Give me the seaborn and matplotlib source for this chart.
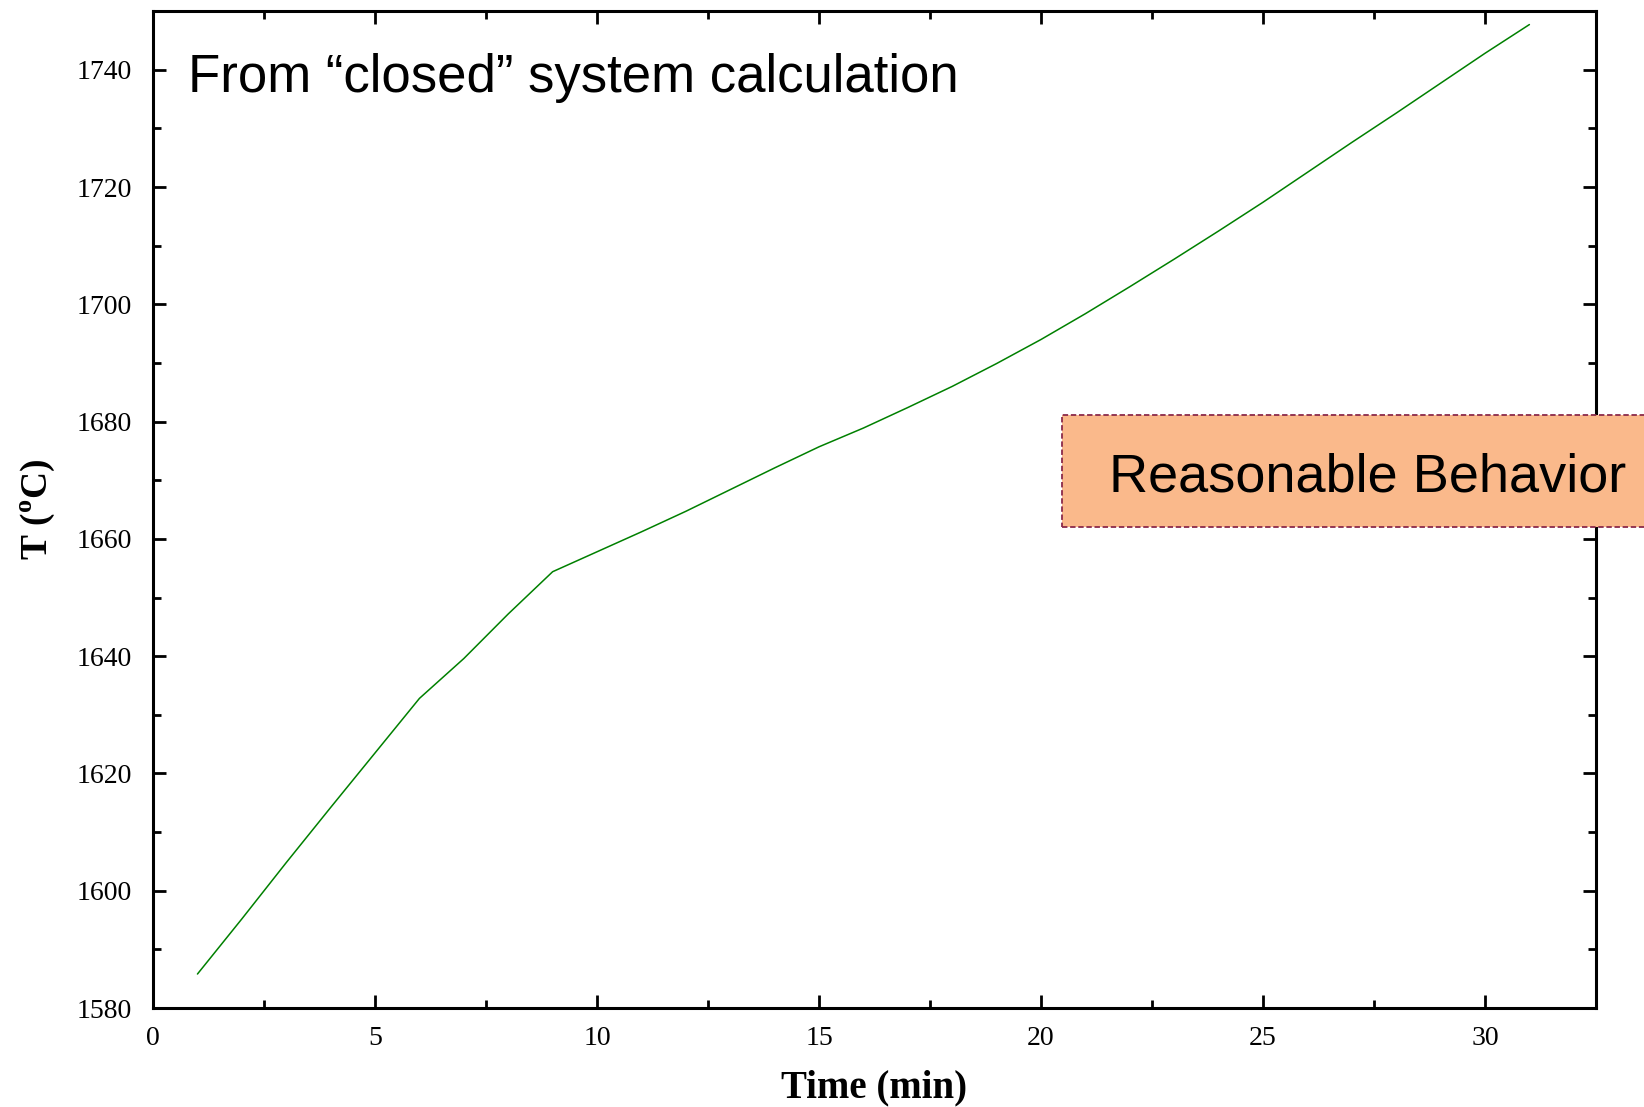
import numpy as np
import pandas as pd
import matplotlib
matplotlib.use("Agg")
import matplotlib.pyplot as plt
from matplotlib.patches import Rectangle
from matplotlib.ticker import MultipleLocator
import seaborn as sns

# Temperature history of the melt (closed-system calculation)
time_min = [1, 2, 3, 4, 5, 6, 7, 8, 9, 10, 11, 12, 13, 14, 15, 16,
            17, 18, 19, 20, 21, 22, 23, 24, 25, 26, 27, 28, 29, 30, 31]
temp_c = [1585.8, 1595.2, 1604.8, 1614.2, 1623.5, 1632.8, 1639.6, 1647.2,
          1654.4, 1657.8, 1661.2, 1664.7, 1668.4, 1672.1, 1675.7, 1678.9,
          1682.4, 1686.0, 1689.9, 1694.0, 1698.4, 1703.0, 1707.7, 1712.5,
          1717.4, 1722.5, 1727.6, 1732.6, 1737.7, 1742.8, 1747.7]

x_ticks = [0, 5, 10, 15, 20, 25, 30]
y_ticks = [1580, 1600, 1620, 1640, 1660, 1680, 1700, 1720, 1740]

title_text = "From \u201cclosed\u201d system calculation"
note_text = "Reasonable Behavior"

sns.set_theme(style="ticks")
plt.rcParams["font.family"] = ["Liberation Serif", "DejaVu Serif"]
plt.rcParams["mathtext.fontset"] = "custom"
plt.rcParams["mathtext.rm"] = "Liberation Serif"
plt.rcParams["mathtext.bf"] = "Liberation Serif:bold"
plt.rcParams["text.color"] = "black"
plt.rcParams["axes.labelcolor"] = "black"
plt.rcParams["xtick.color"] = "black"
plt.rcParams["ytick.color"] = "black"

df = pd.DataFrame({"Time (min)": time_min, "T": temp_c})

fig = plt.figure(figsize=(16.44, 11.07), dpi=100)
ax = fig.add_axes([0.0931, 0.0894, 0.8777, 0.9006])

sns.lineplot(data=df, x="Time (min)", y="T", ax=ax, color="#008000",
             linewidth=1.1)

ax.set_xlim(0, 32.5)
ax.set_ylim(1580, 1750)
ax.set_xticks(x_ticks)
ax.set_yticks(y_ticks)
ax.xaxis.set_minor_locator(MultipleLocator(2.5))
ax.yaxis.set_minor_locator(MultipleLocator(10))

for side in ["left", "right", "top", "bottom"]:
    ax.spines[side].set_visible(True)
    ax.spines[side].set_color("black")
    ax.spines[side].set_linewidth(2.2)

ax.tick_params(which="major", direction="in", length=9.5, width=2.0,
               top=True, right=True, labelsize=20, color="black",
               labelcolor="black")
ax.tick_params(which="minor", direction="in", length=5.5, width=2.0,
               top=True, right=True, color="black")
ax.tick_params(axis="x", which="major", pad=13)
ax.tick_params(axis="y", which="major", pad=15)

ax.set_xlabel("Time (min)", fontsize=28, fontweight="bold", labelpad=13,
              color="black")
ax.set_ylabel(r"T ($^{\mathbf{o}}$C)", fontsize=27, fontweight="bold",
              labelpad=14, color="black")

fig.text(188 / 1644, 1 - 92 / 1107, title_text, fontsize=38,
         family=["Liberation Sans", "DejaVu Sans"], color="black",
         va="baseline", ha="left")

box = Rectangle((1062 / 1644, 1 - 527 / 1107), 0.4, 112 / 1107,
                transform=fig.transFigure, facecolor="#FAB98B",
                edgecolor="#8B2A4A", linewidth=1.3, linestyle=(0, (3, 1.5)),
                clip_on=False, zorder=5)
fig.patches.append(box)
fig.text(1109 / 1644, 1 - 492 / 1107, note_text, fontsize=39,
         family=["Liberation Sans", "DejaVu Sans"], color="black",
         va="baseline", ha="left", zorder=6)

fig.savefig("out.png", dpi=100)
